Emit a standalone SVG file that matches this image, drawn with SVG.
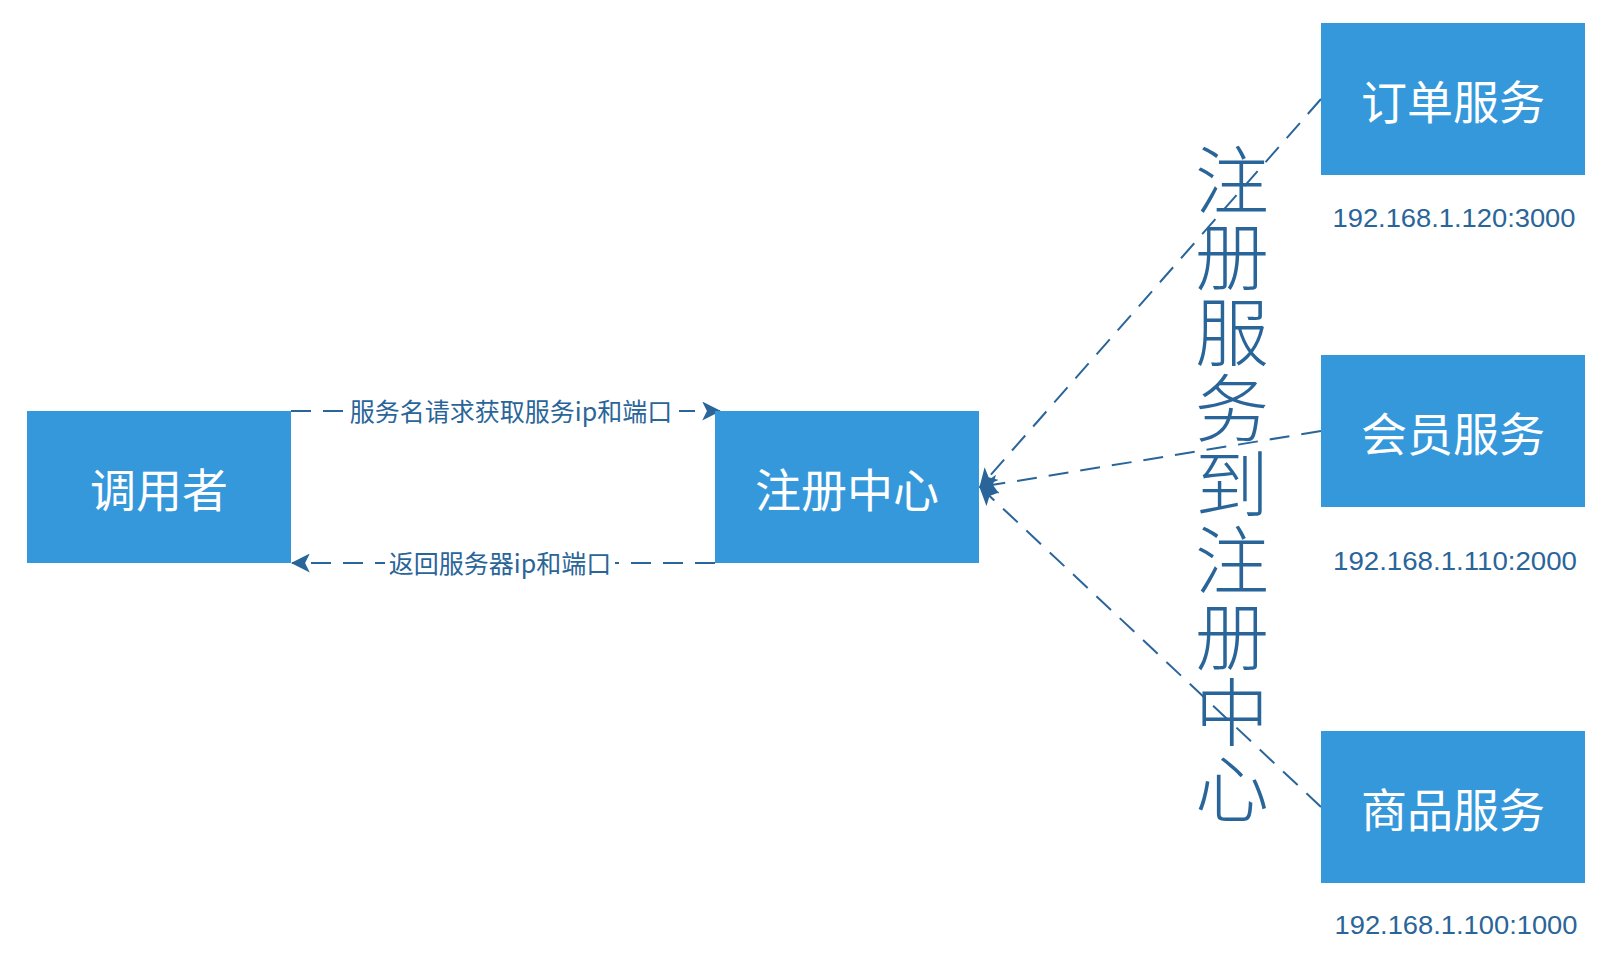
<svg xmlns="http://www.w3.org/2000/svg" width="1616" height="960" viewBox="0 0 1616 960">
<style>
.box{fill:#3598db;}
.bt{fill:#ffffff;font-family:"Noto Sans CJK SC","Noto Sans",sans-serif;font-size:46px;text-anchor:middle;dominant-baseline:central;}
.edge{fill:none;stroke:#2a6599;stroke-width:2;stroke-dasharray:20 12;}
.lbl{fill:#2a6599;font-family:"Noto Sans CJK SC","Noto Sans",sans-serif;font-size:25px;text-anchor:middle;dominant-baseline:central;}
.ip{fill:#2a6599;font-family:"Liberation Sans","DejaVu Sans",sans-serif;font-size:26px;text-anchor:middle;}
.vt{fill:#2a6599;font-family:"Noto Sans CJK SC","Noto Sans",sans-serif;font-size:74px;font-weight:300;writing-mode:vertical-rl;letter-spacing:2px;}
</style>
<defs>
<marker id="arr" markerUnits="userSpaceOnUse" markerWidth="19" markerHeight="19" viewBox="0 0 16 16" refX="15" refY="8" orient="auto">
<path d="M0,0 L16,8 L0,16 L4,8 z" fill="#2a6599"/>
</marker>
</defs>
<rect width="1616" height="960" fill="#ffffff"/>
<g id="connectors">
<line class="edge" x1="291" y1="411" x2="720" y2="411" marker-end="url(#arr)"/>
<line class="edge" x1="715" y1="563" x2="292" y2="563" marker-end="url(#arr)"/>
<line class="edge" x1="1321" y1="99" x2="980" y2="487" marker-end="url(#arr)"/>
<line class="edge" x1="1321" y1="431" x2="980" y2="487" marker-end="url(#arr)"/>
<line class="edge" x1="1321" y1="807" x2="980" y2="487" marker-end="url(#arr)"/>
<g id="label-request">
<rect x="343" y="396" width="336" height="30" fill="#ffffff"/>
<text class="lbl" x="511" y="410">服务名请求获取服务ip和端口</text>
</g>
<g id="label-return">
<rect x="385" y="548" width="230" height="30" fill="#ffffff"/>
<text class="lbl" x="500" y="562">返回服务器ip和端口</text>
</g>
</g>
<g id="node-caller">
<rect class="box" x="27" y="411" width="264" height="152"/>
<text class="bt" x="159" y="487">调用者</text>
</g>
<g id="node-registry">
<rect class="box" x="715" y="411" width="264" height="152"/>
<text class="bt" x="847" y="487">注册中心</text>
</g>
<g id="node-order">
<rect class="box" x="1321" y="23" width="264" height="152"/>
<text class="bt" x="1453" y="99">订单服务</text>
<text class="ip" x="1454" y="227" textLength="243" lengthAdjust="spacingAndGlyphs">192.168.1.120:3000</text>
</g>
<g id="node-member">
<rect class="box" x="1321" y="355" width="264" height="152"/>
<text class="bt" x="1453" y="431">会员服务</text>
<text class="ip" x="1455" y="570" textLength="244" lengthAdjust="spacingAndGlyphs">192.168.1.110:2000</text>
</g>
<g id="node-goods">
<rect class="box" x="1321" y="731" width="264" height="152"/>
<text class="bt" x="1453" y="807">商品服务</text>
<text class="ip" x="1456" y="934" textLength="243" lengthAdjust="spacingAndGlyphs">192.168.1.100:1000</text>
</g>
<g id="vertical-label">
<text class="vt" x="1232" y="143">注册服务到注册中心</text>
</g>
</svg>
